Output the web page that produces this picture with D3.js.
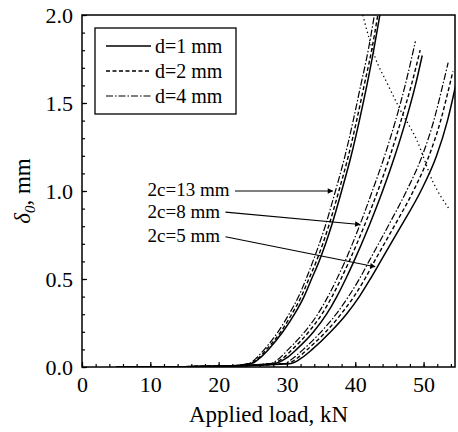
<!DOCTYPE html>
<html>
<head>
<meta charset="utf-8">
<script src="https://cdn.jsdelivr.net/npm/d3@7"></script>
<style>
  body { margin: 0; background: #fff; }
  svg text { font-family: "Liberation Serif", "Times New Roman", serif; fill: #000; }
</style>
</head>
<body>
<div id="chart"></div>
<script>
// Crack opening deflection vs applied load, three crack lengths x three d values
// each series is [load kN, delta mm]
const base = [[5, 0], [15, 0.002], [21, 0.005]];

const c13_d1 = [[24.8, 0.02], [26.0, 0.05], [27.3, 0.1], [29.4, 0.2], [31.1, 0.3], [32.5, 0.4], [33.6, 0.5], [34.7, 0.6], [36.5, 0.8], [38.0, 1.0], [39.4, 1.2], [40.6, 1.4], [41.7, 1.6], [42.7, 1.8], [43.6, 2.0]];
const c13_d2 = [[24.6, 0.02], [25.8, 0.05], [27.0, 0.1], [29.1, 0.2], [30.7, 0.3], [32.1, 0.4], [33.2, 0.5], [34.3, 0.6], [36.1, 0.8], [37.6, 1.0], [39.0, 1.2], [40.2, 1.4], [41.3, 1.6], [42.4, 1.8], [43.3, 2.0]];
const c13_d4 = [[24.4, 0.02], [25.5, 0.05], [26.7, 0.1], [28.7, 0.2], [30.3, 0.3], [31.7, 0.4], [32.8, 0.5], [33.8, 0.6], [35.6, 0.8], [37.1, 1.0], [38.5, 1.2], [39.7, 1.4], [40.8, 1.6], [41.9, 1.8], [42.8, 2.0]];

const c8_d1 = [[28.2, 0.02], [29.9, 0.05], [31.4, 0.1], [33.9, 0.2], [35.8, 0.3], [37.3, 0.4], [38.6, 0.5], [39.8, 0.6], [42.0, 0.8], [44.0, 1.0], [45.8, 1.2], [47.4, 1.4], [48.8, 1.6], [49.8, 1.77]];
const c8_d2 = [[27.9, 0.02], [29.4, 0.05], [30.8, 0.1], [33.2, 0.2], [35.1, 0.3], [36.6, 0.4], [37.9, 0.5], [39.1, 0.6], [41.3, 0.8], [43.3, 1.0], [45.1, 1.2], [46.7, 1.4], [48.2, 1.6], [49.5, 1.80]];
const c8_d4 = [[27.6, 0.02], [28.9, 0.05], [30.2, 0.1], [32.6, 0.2], [34.5, 0.3], [36.0, 0.4], [37.3, 0.5], [38.5, 0.6], [40.6, 0.8], [42.5, 1.0], [44.3, 1.2], [45.9, 1.4], [47.3, 1.6], [48.8, 1.85]];

const c5_d1 = [[30.6, 0.02], [32.1, 0.05], [33.7, 0.1], [36.4, 0.2], [38.7, 0.3], [40.6, 0.4], [42.2, 0.5], [43.7, 0.6], [46.7, 0.8], [49.6, 1.0], [51.9, 1.2], [53.5, 1.4], [54.7, 1.6]];
const c5_d2 = [[30.1, 0.02], [31.5, 0.05], [33.0, 0.1], [35.7, 0.2], [37.9, 0.3], [39.8, 0.4], [41.4, 0.5], [42.8, 0.6], [45.7, 0.8], [48.5, 1.0], [50.8, 1.2], [52.5, 1.4], [53.8, 1.6], [54.3, 1.68]];
const c5_d4 = [[29.6, 0.02], [30.9, 0.05], [32.4, 0.1], [35.0, 0.2], [37.2, 0.3], [39.0, 0.4], [40.6, 0.5], [42.0, 0.6], [44.8, 0.8], [47.5, 1.0], [49.8, 1.2], [51.5, 1.4], [52.8, 1.6], [53.6, 1.73]];

// dotted boundary through the curve ends
const boundary = [[41.1, 2.0], [42.9, 1.76], [44.7, 1.61], [46.6, 1.46], [49.0, 1.29], [51.4, 1.05], [53.7, 0.90]];

const legendLabels = ["d=1 mm", "d=2 mm", "d=4 mm"];
const xTicks = [0, 10, 20, 30, 40, 50];
const yTicks = [0, 0.5, 1.0, 1.5, 2.0];

// annotation: label, text start point, arrow start, arrow tip (data units)
const notes = [
    { label: "2c=13 mm", text: [9.6, 1.01], from: [22.4, 1.0], to: [36.7, 1.0] },
    { label: "2c=8 mm", text: [9.6, 0.885], from: [21.0, 0.88], to: [40.7, 0.81] },
    { label: "2c=5 mm", text: [9.6, 0.75], from: [21.0, 0.74], to: [42.9, 0.57] }
];

const width = 458, height = 432;
const svg = d3.select("#chart").append("svg")
    .attr("width", width)
    .attr("height", height);

const x = d3.scaleLinear().domain([0, 54.6]).range([82, 455]);
const y = d3.scaleLinear().domain([0, 2]).range([367, 15]);

svg.append("defs").append("clipPath").attr("id", "plot-clip")
    .append("rect")
    .attr("x", x(0)).attr("y", y(2))
    .attr("width", x(54.6) - x(0)).attr("height", y(0) - y(2));

svg.select("defs").append("marker")
    .attr("id", "arrow")
    .attr("viewBox", "0 0 10 10")
    .attr("refX", 9).attr("refY", 5)
    .attr("markerWidth", 7).attr("markerHeight", 5)
    .attr("orient", "auto")
    .append("path")
    .attr("d", "M0,0 L10,5 L0,10 z")
    .attr("fill", "#000");

// axes, ticks point inward
svg.append("g")
    .attr("transform", `translate(0,${y(0)})`)
    .call(d3.axisBottom(x).tickValues(xTicks).tickSize(-5).tickPadding(9).tickFormat(d3.format("d")));
svg.append("g")
    .attr("transform", `translate(0,${y(0)})`)
    .call(d3.axisBottom(x).tickValues(d3.range(0, 55, 2)).tickSize(-3).tickFormat(""));

svg.append("g")
    .attr("transform", `translate(${x(0)},0)`)
    .call(d3.axisLeft(y).tickValues(yTicks).tickSize(-5).tickPadding(9).tickFormat(d3.format(".1f")));
svg.append("g")
    .attr("transform", `translate(${x(0)},0)`)
    .call(d3.axisLeft(y).tickValues(d3.range(0, 2.01, 0.1)).tickSize(-3).tickFormat(""));

svg.selectAll(".domain").remove();
svg.selectAll(".tick line").attr("stroke", "#000").attr("stroke-width", 1.2);
svg.selectAll(".tick text").style("font-size", "22px");

svg.append("rect")
    .attr("x", x(0)).attr("y", y(2))
    .attr("width", x(54.6) - x(0)).attr("height", y(0) - y(2))
    .attr("fill", "none")
    .attr("stroke", "#000")
    .attr("stroke-width", 1.5);

// curves
const line = d3.line()
    .x(d => x(d[0]))
    .y(d => y(d[1]))
    .curve(d3.curveMonotoneX);

const styles = [
    { dash: null, width: 1.5 },
    { dash: "4,2.5", width: 1.4 },
    { dash: "7,2,1.5,2", width: 1.2 }
];
const series = [
    [c13_d1, 0], [c13_d2, 1], [c13_d4, 2],
    [c8_d1, 0], [c8_d2, 1], [c8_d4, 2],
    [c5_d1, 0], [c5_d2, 1], [c5_d4, 2]
];

const plot = svg.append("g").attr("clip-path", "url(#plot-clip)");
series.forEach(([pts, s]) => {
    plot.append("path")
        .datum(base.concat(pts))
        .attr("d", line)
        .attr("fill", "none")
        .attr("stroke", "#000")
        .attr("stroke-width", styles[s].width)
        .attr("stroke-dasharray", styles[s].dash);
});

plot.append("path")
    .datum(boundary)
    .attr("d", line)
    .attr("fill", "none")
    .attr("stroke", "#000")
    .attr("stroke-width", 1.3)
    .attr("stroke-dasharray", "1.3,3");

// annotations
notes.forEach(n => {
    svg.append("text")
        .attr("x", x(n.text[0]))
        .attr("y", y(n.text[1]))
        .attr("dy", "0.35em")
        .style("font-size", "19px")
        .text(n.label);
    svg.append("line")
        .attr("x1", x(n.from[0])).attr("y1", y(n.from[1]))
        .attr("x2", x(n.to[0])).attr("y2", y(n.to[1]))
        .attr("stroke", "#000")
        .attr("stroke-width", 1.1)
        .attr("marker-end", "url(#arrow)");
});

// legend
const legend = svg.append("g");
legend.append("rect")
    .attr("x", 95).attr("y", 28)
    .attr("width", 141).attr("height", 86)
    .attr("fill", "#fff")
    .attr("stroke", "#000")
    .attr("stroke-width", 1.3);
legendLabels.forEach((lab, i) => {
    const ly = 46 + i * 25;
    legend.append("line")
        .attr("x1", 106).attr("x2", 151)
        .attr("y1", ly).attr("y2", ly)
        .attr("stroke", "#000")
        .attr("stroke-width", styles[i].width)
        .attr("stroke-dasharray", styles[i].dash);
    legend.append("text")
        .attr("x", 155).attr("y", ly)
        .attr("dy", "0.35em")
        .style("font-size", "20px")
        .text(lab);
});

// axis titles
svg.append("text")
    .attr("x", (x(0) + x(54.6)) / 2)
    .attr("y", 422)
    .attr("text-anchor", "middle")
    .style("font-size", "23px")
    .text("Applied load, kN");

const yTitle = svg.append("text")
    .attr("transform", `translate(30,${y(1.0)}) rotate(-90)`)
    .attr("text-anchor", "middle")
    .style("font-size", "23px");
yTitle.append("tspan").style("font-style", "italic").text("δ");
yTitle.append("tspan").style("font-style", "italic").style("font-size", "15px").attr("dy", "5").text("0");
yTitle.append("tspan").attr("dy", "-5").text(", mm");
</script>
</body>
</html>
